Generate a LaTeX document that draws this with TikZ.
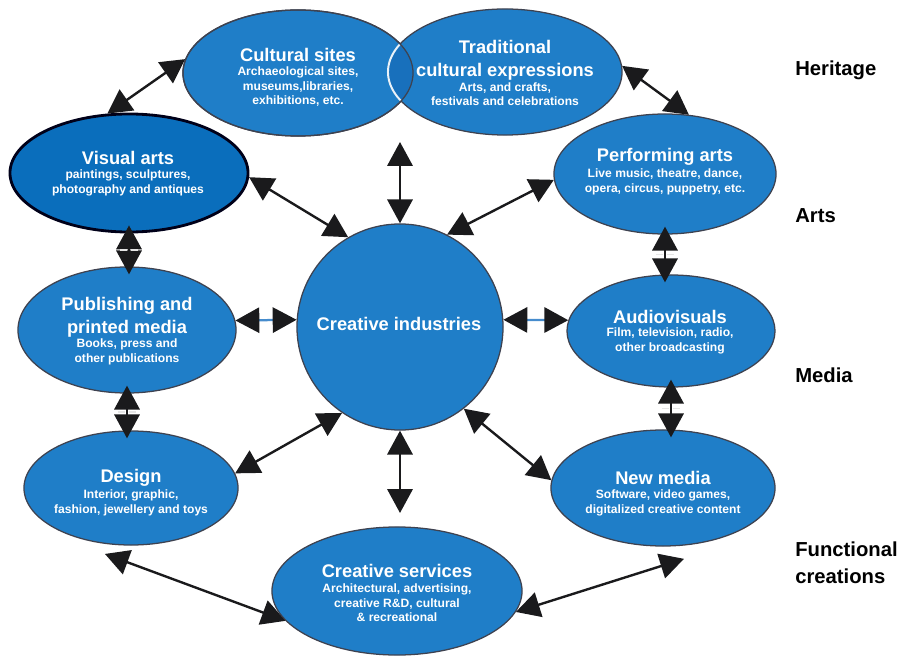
\documentclass[tikz,border=0pt]{standalone}
\usepackage{fontspec}
\setmainfont{Liberation Sans}
\usetikzlibrary{arrows.meta,shapes.geometric}
\definecolor{ciBlue}{RGB}{31,126,200}
\definecolor{ciDeep}{RGB}{10,110,188}
\definecolor{ciOver}{RGB}{24,112,188}
\definecolor{ciEdge}{RGB}{62,66,80}
\definecolor{ciLink}{RGB}{26,26,28}
\definecolor{ciThin}{RGB}{70,140,205}
\newcommand{\ttlfont}{\fontsize{13}{16.3}\selectfont\bfseries}
\newcommand{\subfont}{\fontsize{8.6}{10.3}\selectfont\bfseries}

\begin{document}
\begin{tikzpicture}[
  x=0.025cm, y=-0.025cm,
  >={Triangle[length=17pt,width=18pt]},
  blob/.style={ellipse, draw=ciEdge, fill=ciBlue, line width=0.9pt, inner sep=0pt},
  ttl/.style={align=center, text=white, font=\ttlfont, inner sep=0pt},
  sub/.style={align=center, text=white, font=\subfont, inner sep=0pt},
  group/.style={anchor=west, align=left, inner sep=0pt,
    font=\fontsize{14.4}{19.4}\selectfont\bfseries},
  link/.style={<->, draw=ciLink, line width=1.7pt},
  dia/.style={link, shorten <=-0.2cm, shorten >=-0.2cm},
  hline/.style={{Triangle[length=17pt,width=18pt,color=ciLink]}-{Triangle[length=17pt,width=18pt,color=ciLink]},
    draw=ciThin, line width=1.6pt},
  notch/.style={draw=white!80!gray, line width=1.2pt, dash pattern=on 5pt off 2.5pt}
]
\useasboundingbox (0,0) rectangle (903,656);

% heritage pair, overlapping
\node[blob, minimum width=5.75cm, minimum height=3.15cm] (cs) at (298,73) {};
\node[blob, minimum width=5.85cm, minimum height=3.15cm] (tce) at (505,72) {};
\begin{scope}
  \clip (cs.center) ellipse [x radius=2.875cm, y radius=1.575cm];
  \fill[ciOver] (tce.center) ellipse [x radius=2.925cm, y radius=1.575cm];
  \draw[white!90!ciBlue, line width=1.4pt] (tce.center) ellipse [x radius=2.925cm, y radius=1.575cm];
\end{scope}
\draw[ciEdge, line width=0.9pt] (cs.center) ellipse [x radius=2.875cm, y radius=1.575cm];

% the other sectors
\node[blob, fill=ciDeep, draw=black!90!blue, line width=2pt,
      minimum width=5.95cm, minimum height=2.95cm] (va) at (129,173) {};
\node[blob, minimum width=5.55cm, minimum height=3.0cm] (pa) at (665,174) {};
\node[blob, minimum width=5.45cm, minimum height=3.15cm] (pub) at (127,330) {};
\node[blob, minimum width=5.2cm, minimum height=2.8cm] (av) at (671,331) {};
\node[blob, minimum width=5.35cm, minimum height=2.85cm] (des) at (131,488) {};
\node[blob, minimum width=5.6cm, minimum height=2.9cm] (nm) at (663,488) {};
\node[blob, minimum width=6.25cm, minimum height=3.2cm] (csv) at (397,591) {};
\node[blob, circle, minimum size=5.15cm] (ci) at (400,327) {};

% texts
\node[ttl] (cs-a) at (298,55) {Cultural sites};
\node[sub] (cs-b) at (298,87) {Archaeological sites,\\museums,libraries,\\exhibitions, etc.};
\node[ttl] (tce-a) at (505,60) {Traditional\\cultural expressions};
\node[sub] (tce-b) at (505,94) {Arts, and crafts,\\festivals and celebrations};
\node[ttl] (va-a) at (128,158) {Visual arts};
\node[sub] (va-b) at (128,183) {paintings, sculptures,\\photography and antiques};
\node[ttl] (pa-a) at (665,157) {Performing arts};
\node[sub] (pa-b) at (665,182) {Live music, theatre, dance,\\opera, circus, puppetry, etc.};
\node[ttl] (pub-a) at (127,317) {Publishing and\\printed media};
\node[sub] (pub-b) at (127,352) {Books, press and\\other publications};
\node[ttl] (ci-a) at (399,324) {Creative industries};
\node[ttl] (av-a) at (670,317) {Audiovisuals};
\node[sub] (av-b) at (670,341) {Film, television, radio,\\other broadcasting};
\node[ttl] (des-a) at (131,478) {Design};
\node[sub] (des-b) at (131,503) {Interior, graphic,\\fashion, jewellery and toys};
\node[ttl] (nm-a) at (663,478) {New media};
\node[sub] (nm-b) at (663,503) {Software, video games,\\digitalized creative content};
\node[ttl] (csv-a) at (397,571) {Creative services};
\node[sub] (csv-b) at (397,603) {Architectural, advertising,\\creative R\&D, cultural\\\& recreational};

% groups on the right
\node[group] (g1) at (795,70) {Heritage};
\node[group] (g2) at (795,216) {Arts};
\node[group] (g3) at (795,375) {Media};
\node[group] (g4) at (795,563) {Functional\\creations};

% connectors
\coordinate (up) at (ci.north |- 0,142);
\coordinate (dn) at (ci.south |- 0,513);
\draw[link] (va.110) -- (cs.173);
\draw[link] (tce.3) -- (pa.68);
\draw[link] (up) -- (ci.north);
\draw[link] (va.358) -- (ci.120);
\draw[link] (pa.183) -- (ci.63);
\draw[hline] (pub.5) -- (ci.176);
\draw[hline] (ci.4) -- (av.174);
\draw[link] (ci.236) -- (des.8);
\draw[link] (ci.308) -- (nm.176);
\draw[link] (ci.south) -- (dn);
\draw[link] ([yshift=-0.25cm]des.245) -- (csv.195);
\draw[link] (csv.350) -- ([yshift=-0.33cm]nm.290);

\draw[dia] (va.south) -- coordinate (m1) (va.south |- pub.north);
\draw[dia] (pub.south) -- coordinate (m2) (pub.south |- des.north);
\draw[dia] (pa.south) -- coordinate (m3) (pa.south |- av.north);
\draw[dia] (av.south) -- coordinate (m4) (av.south |- nm.north);
\foreach \m in {m1,m2,m3,m4}
  \draw[notch] ([xshift=-0.22cm]\m) -- ([xshift=0.22cm]\m);

\end{tikzpicture}
\end{document}
